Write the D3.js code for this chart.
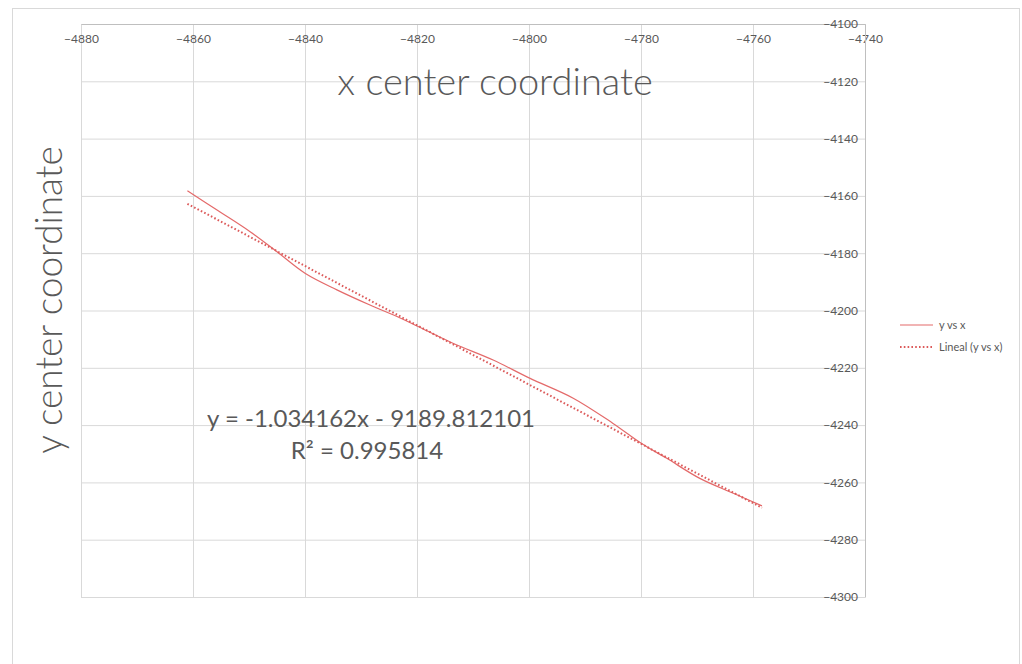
<!DOCTYPE html>
<html>
<head>
<meta charset="utf-8">
<script src="https://cdn.jsdelivr.net/npm/d3@7/dist/d3.min.js"></script>
<style>
  body { margin: 0; background: #fff; }
  svg { display: block; font-family: Lato, "Open Sans", sans-serif; }
</style>
</head>
<body>
<script>
// Data
const xValues = [-4861.0, -4855.5, -4849.8, -4845.0, -4840.0, -4834.3, -4828.4, -4823.0, -4819.9,
                 -4813.5, -4806.4, -4799.8, -4792.1, -4785.0, -4779.9, -4775.4, -4769.5, -4763.5, -4758.4];
const yValues = [-4158.2, -4165.2, -4172.5, -4179.5, -4187.0, -4192.8, -4198.1, -4202.6, -4205.5,
                 -4211.5, -4217.3, -4223.7, -4230.6, -4239.4, -4246.4, -4251.6, -4258.6, -4263.8, -4268.2];
const xTicks = [-4880, -4860, -4840, -4820, -4800, -4780, -4760, -4740];
const yTicks = [-4100, -4120, -4140, -4160, -4180, -4200, -4220, -4240, -4260, -4280, -4300];
const slope = -1.034162, intercept = -9189.812101, r2 = 0.995814;
const seriesNames = ['y vs x', 'Lineal (y vs x)'];

const W = 1022, H = 664;
const plot = { left: 81, right: 865, top: 24, bottom: 597 };
const red = '#e46a6a', dotRed = '#dc5a5a', grey = '#595959';

const svg = d3.select('body').append('svg')
    .attr('width', W)
    .attr('height', H);

// chart frame
svg.append('rect')
    .attr('x', 12.5).attr('y', 8.5)
    .attr('width', 1007).attr('height', 700)
    .attr('fill', 'none').attr('stroke', '#d9d9d9');

const x = d3.scaleLinear().domain([-4880, -4740]).range([plot.left, plot.right]);
const y = d3.scaleLinear().domain([-4100, -4300]).range([plot.top, plot.bottom]);

// gridlines
svg.append('g')
    .attr('transform', `translate(0,${plot.bottom})`)
    .call(d3.axisBottom(x).tickValues(xTicks).tickSize(-(plot.bottom - plot.top)).tickFormat(''))
    .call(g => g.select('.domain').remove())
    .call(g => g.selectAll('line').attr('stroke', '#d9d9d9'));
svg.append('g')
    .attr('transform', `translate(${plot.left},0)`)
    .call(d3.axisLeft(y).tickValues(yTicks).tickSize(-(plot.right - plot.left)).tickFormat(''))
    .call(g => g.select('.domain').remove())
    .call(g => g.selectAll('line').attr('stroke', '#d9d9d9'));

// x axis crosses at the top (y = -4100)
svg.append('g')
    .attr('transform', `translate(0,${plot.top})`)
    .call(d3.axisBottom(x).tickValues(xTicks).tickSize(0).tickPadding(10).tickFormat(d3.format('d')))
    .call(g => g.select('.domain').attr('stroke', '#bfbfbf'))
    .call(g => g.selectAll('text').attr('fill', grey).attr('font-size', 12).attr('font-family', 'Lato'));

// y axis crosses at the right (x = -4740)
svg.append('g')
    .attr('transform', `translate(${plot.right},0)`)
    .call(d3.axisLeft(y).tickValues(yTicks).tickSize(0).tickPadding(7).tickFormat(d3.format('d')))
    .call(g => g.select('.domain').attr('stroke', '#bfbfbf'))
    .call(g => g.selectAll('text').attr('fill', grey).attr('font-size', 12).attr('font-family', 'Lato'));

// series
const pts = xValues.map((v, i) => [v, yValues[i]]);
const line = d3.line().x(d => x(d[0])).y(d => y(d[1])).curve(d3.curveCatmullRom);
svg.append('path')
    .datum(pts)
    .attr('d', line)
    .attr('fill', 'none')
    .attr('stroke', red)
    .attr('stroke-width', 1.2);

// linear trend line
const xExt = d3.extent(xValues);
const trend = xExt.map(v => [v, slope * v + intercept]);
svg.append('path')
    .datum(trend)
    .attr('d', d3.line().x(d => x(d[0])).y(d => y(d[1])))
    .attr('fill', 'none')
    .attr('stroke', dotRed)
    .attr('stroke-width', 2)
    .attr('stroke-dasharray', '1.6,2.2');

// titles
svg.append('text')
    .attr('x', 495).attr('y', 95)
    .attr('text-anchor', 'middle')
    .attr('fill', grey)
    .attr('font-size', 38)
    .attr('font-weight', 300)
    .text('x center coordinate');

svg.append('text')
    .attr('transform', 'translate(62,300) rotate(-90)')
    .attr('text-anchor', 'middle')
    .attr('fill', grey)
    .attr('font-size', 37)
    .attr('font-weight', 300)
    .text('y center coordinate');

// equation label
svg.append('text')
    .attr('x', 371).attr('y', 427)
    .attr('text-anchor', 'middle')
    .attr('fill', grey)
    .attr('font-size', 24)
    .text(`y = ${slope.toFixed(6)}x - ${Math.abs(intercept).toFixed(6)}`);
svg.append('text')
    .attr('x', 367).attr('y', 459)
    .attr('text-anchor', 'middle')
    .attr('fill', grey)
    .attr('font-size', 24)
    .text(`R² = ${r2.toFixed(6)}`);

// legend
const legend = svg.append('g').attr('transform', 'translate(900,325)');
seriesNames.forEach((name, i) => {
    const row = legend.append('g').attr('transform', `translate(0,${i * 22})`);
    row.append('line')
        .attr('x1', 0).attr('x2', 33)
        .attr('stroke', i === 0 ? red : dotRed)
        .attr('stroke-width', i === 0 ? 1.2 : 2)
        .attr('stroke-dasharray', i === 0 ? null : '1.6,2.2');
    row.append('text')
        .attr('x', 39).attr('y', 4)
        .attr('fill', grey)
        .attr('font-size', 11)
        .text(name);
});
</script>
</body>
</html>
